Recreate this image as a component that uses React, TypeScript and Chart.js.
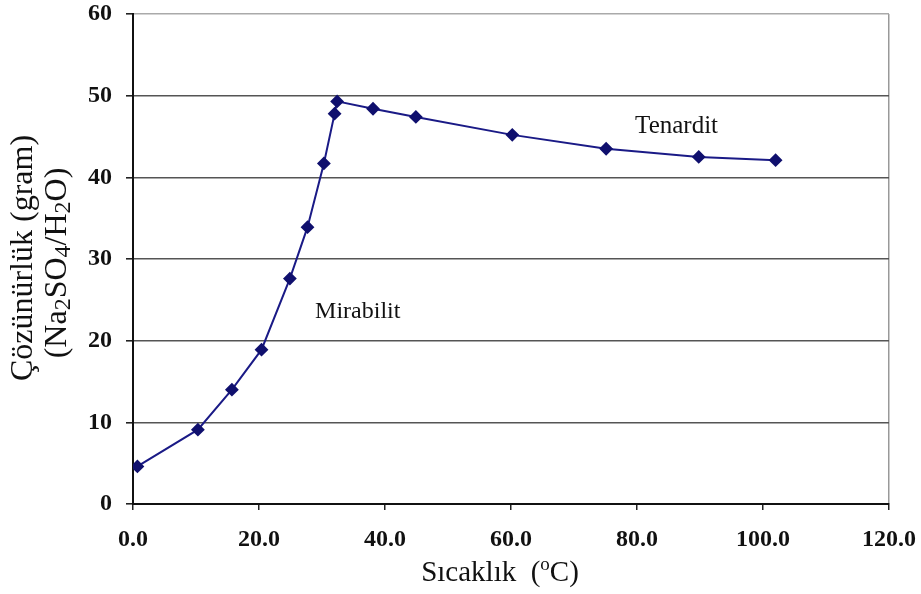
import React, { useEffect, useRef } from 'react';
import { Chart, registerables } from 'chart.js';

Chart.register(...registerables);

// ---- data ----
const temperatures = [0.7, 10.3, 15.7, 20.4, 24.9, 27.7, 30.3, 32.0, 32.4, 38.1, 44.9, 60.2, 75.1, 89.8, 102.0];
const solubility = [4.6, 9.1, 14.0, 18.9, 27.6, 33.9, 41.7, 47.8, 49.3, 48.4, 47.4, 45.2, 43.5, 42.5, 42.1];
const xTickLabels = ['0.0', '20.0', '40.0', '60.0', '80.0', '100.0', '120.0'];
const yTickLabels = ['0', '10', '20', '30', '40', '50', '60'];
const phaseLabels = ['Mirabilit', 'Tenardit'];

type Seg = { t: string; sub?: boolean; sup?: boolean };
const xTitle: Seg[] = [{ t: 'Sıcaklık  (' }, { t: 'o', sup: true }, { t: 'C)' }];
const yTitleLine1: Seg[] = [{ t: 'Çözünürlük (gram)' }];
const yTitleLine2: Seg[] = [
  { t: '(Na' }, { t: '2', sub: true }, { t: 'SO' }, { t: '4', sub: true },
  { t: '/H' }, { t: '2', sub: true }, { t: 'O)' },
];

// label anchors in data coordinates (left edge / baseline)
const phaseAnchorX = [28.9, 79.7];
const phaseAnchorY = [22.8, 45.4];

const FAMILY = '"Liberation Serif", "Times New Roman", serif';

function drawRich(
  ctx: CanvasRenderingContext2D,
  segs: Seg[],
  cx: number,
  baseY: number,
  size: number,
  smallRatio = 0.66
) {
  const small = Math.round(size * smallRatio);
  const fontOf = (s: Seg) => `${s.sub || s.sup ? small : size}px ${FAMILY}`;
  let total = 0;
  const widths = segs.map((s) => {
    ctx.font = fontOf(s);
    const w = ctx.measureText(s.t).width;
    total += w;
    return w;
  });
  let x = cx - total / 2;
  ctx.textAlign = 'left';
  ctx.textBaseline = 'alphabetic';
  segs.forEach((s, i) => {
    ctx.font = fontOf(s);
    let y = baseY;
    if (s.sub) y += size * 0.12;
    if (s.sup) y -= size * 0.38;
    ctx.fillText(s.t, x, y);
    x += widths[i];
  });
}

const textPlugin = {
  id: 'textPlugin',
  afterDraw(chart: any) {
    const ctx: CanvasRenderingContext2D = chart.ctx;
    const area = chart.chartArea;
    const xs = chart.scales.x;
    const ys = chart.scales.y;
    ctx.save();
    ctx.fillStyle = '#111';

    // phase labels
    ctx.textAlign = 'left';
    ctx.textBaseline = 'alphabetic';
    phaseLabels.forEach((lbl, i) => {
      ctx.font = `${i === 0 ? 24 : 25}px ${FAMILY}`;
      ctx.fillText(lbl, xs.getPixelForValue(phaseAnchorX[i]), ys.getPixelForValue(phaseAnchorY[i]));
    });

    // x title
    drawRich(ctx, xTitle, (area.left + area.right) / 2 - 11, area.bottom + 77, 29);

    // y title (rotated)
    const cy = (area.top + area.bottom) / 2;
    ctx.save();
    ctx.translate(0, cy);
    ctx.rotate(-Math.PI / 2);
    drawRich(ctx, yTitleLine1, 1, 32, 32);
    drawRich(ctx, yTitleLine2, -4, 66, 32, 0.75);
    ctx.restore();

    ctx.restore();
  },
};

export default function App() {
  const ref = useRef<HTMLCanvasElement | null>(null);

  useEffect(() => {
    if (!ref.current) return;
    const chart = new Chart(ref.current, {
      type: 'line',
      data: {
        datasets: [
          {
            data: temperatures.map((t, i) => ({ x: t, y: solubility[i] })),
            borderColor: '#1a1a86',
            borderWidth: 2,
            pointStyle: 'rectRot',
            pointRadius: 5.5,
            pointBackgroundColor: '#10106e',
            pointBorderColor: '#10106e',
            tension: 0,
            fill: false,
          },
        ],
      },
      options: {
        animation: false,
        responsive: true,
        maintainAspectRatio: false,
        layout: { padding: { top: 14, right: 32, left: 0, bottom: 0 } },
        plugins: { legend: { display: false }, tooltip: { enabled: false } },
        scales: {
          x: {
            type: 'linear',
            min: 0,
            max: 120,
            ticks: {
              stepSize: 20,
              autoSkip: false,
              maxRotation: 0,
              padding: 15,
              color: '#111',
              font: { family: FAMILY, size: 24, weight: 'bold' },
              callback: (_v: any, i: number) => xTickLabels[i],
            },
            grid: {
              drawOnChartArea: true,
              color: (c: any) => (c.tick && c.tick.value === 120 ? '#999' : 'rgba(0,0,0,0)'),
              tickColor: '#222',
              tickLength: 6,
              lineWidth: 1.5,
            },
            border: { color: '#111', width: 2 },
            afterFit: (s: any) => {
              s.height = 90;
              s.paddingLeft = 0;
              s.paddingRight = 0;
            },
          },
          y: {
            min: 0,
            max: 60,
            ticks: {
              stepSize: 10,
              padding: 14,
              color: '#111',
              font: { family: FAMILY, size: 24, weight: 'bold' },
              callback: (_v: any, i: number) => yTickLabels[i],
            },
            grid: {
              color: (c: any) =>
                c.tick && c.tick.value === 0 ? 'rgba(0,0,0,0)' : c.tick && c.tick.value === 60 ? '#aaa' : '#555',
              tickColor: '#222',
              tickLength: 7,
              lineWidth: 1.6,
            },
            border: { color: '#111', width: 2 },
            afterFit: (s: any) => {
              s.width = 133;
              s.paddingTop = 0;
              s.paddingBottom = 0;
            },
          },
        },
      } as any,
      plugins: [textPlugin],
    });
    return () => chart.destroy();
  }, []);

  return (
    <div style={{ position: 'absolute', left: 0, top: 0, width: 921, height: 594, background: '#fff' }}>
      <canvas ref={ref} />
    </div>
  );
}
